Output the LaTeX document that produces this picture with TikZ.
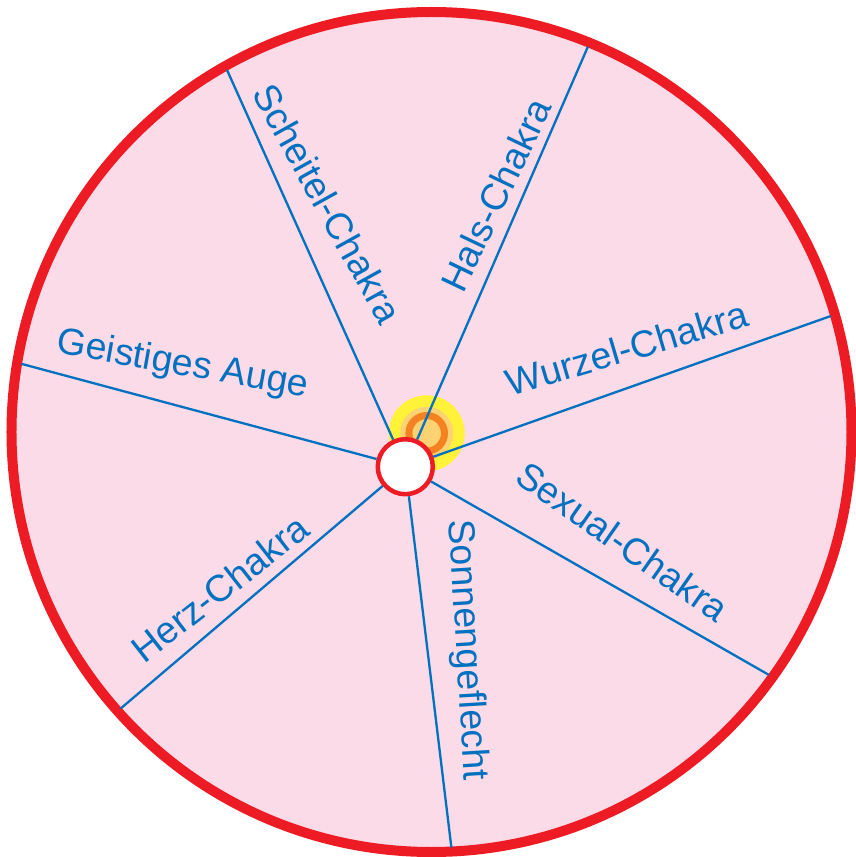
\documentclass[tikz,border=0pt]{standalone}
\usepackage{fontspec}
\setmainfont{Liberation Sans}
\usetikzlibrary{calc}
\definecolor{rimred}{RGB}{237,28,36}
\definecolor{wheelpink}{RGB}{250,219,231}
\definecolor{spokeblue}{RGB}{0,112,192}
\definecolor{sunyellow}{RGB}{255,242,56}
\definecolor{sunpale}{RGB}{253,210,115}
\definecolor{sunorange}{RGB}{245,130,32}
\tikzset{
  wheel/.style={circle, draw=rimred, line width=10pt, fill=wheelpink,
                minimum size=840pt, inner sep=0pt},
  hubring/.style={circle, draw=rimred, line width=4.5pt, fill=white,
                  minimum size=55pt, inner sep=0pt},
  glow/.style={circle, fill=sunyellow, minimum size=76pt, inner sep=0pt},
  glowcore/.style={circle, fill=sunpale, minimum size=53pt, inner sep=0pt},
  glowring/.style={circle, draw=sunorange, line width=7pt, fill=sunpale,
                   minimum size=35.6pt, inner sep=0pt},
  spoke/.style={draw=spokeblue, line width=2.3pt},
  chakra/.style={text=spokeblue, font=\fontsize{37.5}{40}\selectfont,
                 inner sep=0pt},
}

\begin{document}
\begin{tikzpicture}[x=1pt, y=1pt]
  \useasboundingbox (-431.5,-425) rectangle (423.5,432);

  % Wheel
  \node[wheel] (rim) at (0,0) {};

  % Glow behind the hub
  \node[glow] (sun) at (-4.8,-1.3) {};
  \node[glowcore] (suncore) at (sun.center) {};
  \node[glowring] (sunring) at (sun.center) {};

  % Hub
  \node[hubring] (hub) at (-26.2,-34.7) {};

  % Rim points of the spokes
  \coordinate (pscheitel) at ($(hub.center)+(114.2:435)$);
  \coordinate (phals)     at ($(hub.center)+(66.5:458)$);
  \coordinate (pwurzel)   at ($(hub.center)+(19.5:451.5)$);
  \coordinate (psexual)   at ($(hub.center)+(-29.8:419)$);
  \coordinate (psonne)    at ($(hub.center)+(-83.1:383.5)$);
  \coordinate (pherz)     at ($(hub.center)+(220.35:373.5)$);
  \coordinate (pauge)     at ($(hub.center)+(165:397.5)$);

  % Spokes
  \draw[spoke] (hub) -- (pscheitel);
  \draw[spoke] (hub) -- (phals);
  \draw[spoke] (hub) -- (pwurzel);
  \draw[spoke] (hub) -- (psexual);
  \draw[spoke] (hub) -- (psonne);
  \draw[spoke] (hub) -- (pherz);
  \draw[spoke] (hub) -- (pauge);

  % Labels
  \node[chakra, rotate=-61]   (scheitel) at (-104,228.7) {Scheitel-Chakra};
  \node[chakra, rotate=64.5]  (hals)     at (64.3,237)   {Hals-Chakra};
  \node[chakra, rotate=16.5]  (wurzel)   at (195.2,83.7) {Wurzel-Chakra};
  \node[chakra, rotate=-35]   (sexual)   at (191,-109.7) {Sexual-Chakra};
  \node[chakra, rotate=-86.5] (sonne)    at (34.8,-218.2) {Sonnengeflecht};
  \node[chakra, rotate=38]    (herz)     at (-211.5,-156.3) {Herz-Chakra};
  \node[chakra, rotate=-10]   (auge)     at (-248.9,66.6) {Geistiges Auge};
\end{tikzpicture}
\end{document}
